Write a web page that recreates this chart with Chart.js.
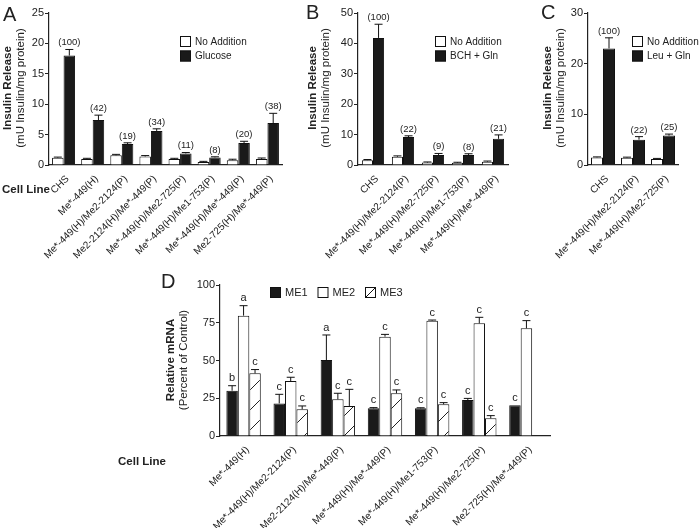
<!DOCTYPE html>
<html>
<head>
<meta charset="utf-8">
<script src="https://cdn.jsdelivr.net/npm/chart.js@4"></script>
<style>
  body { margin: 0; background: #fff; }
  #fig { position: relative; width: 700px; height: 528px; overflow: hidden;
         font-family: "Liberation Sans", Arial, sans-serif; color: #222; }
  canvas { position: absolute; }
  .txt { position: absolute; white-space: nowrap; }
  .panel { font-size: 20px; line-height: 20px; }
  .cell { font-size: 11.5px; font-weight: bold; }
  .ytitle { position: absolute; width: 180px; height: 28px; text-align: center;
            font-size: 11.5px; line-height: 13px; transform: rotate(-90deg); white-space: nowrap; }
  .ytitle b { display: block; }
</style>
</head>
<body>
<div id="fig">
  <canvas id="chartA" width="300" height="275" style="left:0;top:0"></canvas>
  <canvas id="chartB" width="225" height="275" style="left:290px;top:0"></canvas>
  <canvas id="chartC" width="180" height="275" style="left:520px;top:0"></canvas>
  <canvas id="chartD" width="420" height="258" style="left:150px;top:270px"></canvas>

  <div class="txt panel" style="left:3px;top:4px">A</div>
  <div class="txt panel" style="left:306px;top:2px">B</div>
  <div class="txt panel" style="left:541px;top:2px">C</div>
  <div class="txt panel" style="left:161px;top:271px">D</div>

  <div class="ytitle" style="left:-75px;top:74px"><b>Insulin Release</b>(mU Insulin/mg protein)</div>
  <div class="ytitle" style="left:230px;top:74px"><b>Insulin Release</b>(mU Insulin/mg protein)</div>
  <div class="ytitle" style="left:465px;top:74px"><b>Insulin Release</b>(mU Insulin/mg protein)</div>
  <div class="ytitle" style="left:88px;top:346px"><b>Relative mRNA</b>(Percent of Control)</div>

  <div class="txt cell" style="left:2px;top:183px">Cell Line</div>
  <div class="txt cell" style="left:118px;top:455px">Cell Line</div>
</div>

<script>
// ---- panel A: glucose ----
const catsA = ['CHS', 'Me*-449(H)', 'Me*-449(H)/Me2-2124(P)', 'Me2-2124(H)/Me*-449(P)',
  'Me*-449(H)/Me2-725(P)', 'Me*-449(H)/Me1-753(P)', 'Me*-449(H)/Me*-449(P)', 'Me2-725(H)/Me*-449(P)'];
const noAddA = [1.2, 1.0, 1.6, 1.4, 1.0, 0.5, 0.8, 1.0];
const noAddErrA = [0.1, 0.1, 0.15, 0.15, 0.1, 0.1, 0.15, 0.15];
const glucoseA = [18.0, 7.4, 3.45, 5.6, 1.9, 1.25, 3.6, 6.9];
const glucoseErrA = [1.0, 0.8, 0.2, 0.35, 0.15, 0.1, 0.3, 1.6];
const pctA = ['(100)', '(42)', '(19)', '(34)', '(11)', '(8)', '(20)', '(38)'];

// ---- panel B: BCH + Gln ----
const catsB = ['CHS', 'Me*-449(H)/Me2-2124(P)', 'Me*-449(H)/Me2-725(P)',
  'Me*-449(H)/Me1-753(P)', 'Me*-449(H)/Me*-449(P)'];
const noAddB = [1.6, 2.7, 0.8, 0.7, 1.1];
const noAddErrB = [0.2, 0.3, 0.2, 0.2, 0.2];
const bchB = [41.8, 9.2, 3.3, 3.3, 8.6];
const bchErrB = [4.5, 0.4, 0.5, 0.4, 1.3];
const pctB = ['(100)', '(22)', '(9)', '(8)', '(21)'];

// ---- panel C: Leu + Gln ----
const catsC = ['CHS', 'Me*-449(H)/Me2-2124(P)', 'Me*-449(H)/Me2-725(P)'];
const noAddC = [1.5, 1.45, 1.2];
const noAddErrC = [0.1, 0.1, 0.1];
const leuC = [23.0, 5.0, 5.8];
const leuErrC = [2.1, 0.6, 0.3];
const pctC = ['(100)', '(22)', '(25)'];

// ---- panel D: mRNA ----
const catsD = ['Me*-449(H)', 'Me*-449(H)/Me2-2124(P)', 'Me2-2124(H)/Me*-449(P)', 'Me*-449(H)/Me*-449(P)',
  'Me*-449(H)/Me1-753(P)', 'Me*-449(H)/Me2-725(P)', 'Me2-725(H)/Me*-449(P)'];
const me1 = [30, 21.6, 50.3, 18.3, 18.3, 23.8, 20.3];
const me1Err = [3.3, 6, 16.6, 0.5, 0.4, 1.1, 0];
const me1Sig = ['b', 'c', 'a', 'c', 'c', 'c', 'c'];
const me2 = [79.7, 36.4, 24.3, 65.8, 76.4, 74.6, 71.3];
const me2Err = [6.6, 2.5, 4, 1.5, 0.4, 4, 5.1];
const me2Sig = ['a', 'c', 'c', 'c', 'c', 'c', 'c'];
const me3 = [41.5, 17.7, 19.9, 28.3, 21, 11.7, null];
const me3Err = [2.5, 2.2, 11, 2.2, 1.1, 1.8, null];
const me3Sig = ['c', 'c', 'c', 'c', 'c', 'c', ''];

Chart.defaults.font.family = '"Liberation Sans", Arial, sans-serif';
Chart.defaults.color = '#222';

// error bars (up only) and the text over them
const extras = {
  id: 'extras',
  afterDatasetsDraw(chart, args, opts) {
    const ctx = chart.ctx;
    const yScale = chart.scales.y;
    chart.data.datasets.forEach((ds, di) => {
      const meta = chart.getDatasetMeta(di);
      meta.data.forEach((bar, i) => {
        const v = ds.data[i];
        if (v == null) return;
        const e = ds.errors ? (ds.errors[i] || 0) : 0;
        const top = yScale.getPixelForValue(v + e);
        ctx.save();
        ctx.strokeStyle = '#111';
        ctx.lineWidth = 1;
        if (e > 0) {
          ctx.beginPath();
          ctx.moveTo(bar.x, bar.y);
          ctx.lineTo(bar.x, top);
          ctx.moveTo(bar.x - 4, top);
          ctx.lineTo(bar.x + 4, top);
          ctx.stroke();
        }
        if (ds.notes && ds.notes[i]) {
          ctx.fillStyle = '#222';
          ctx.font = opts.font;
          ctx.textAlign = 'center';
          ctx.textBaseline = 'bottom';
          ctx.fillText(ds.notes[i], bar.x, top - 2);
        }
        ctx.restore();
      });
    });
  }
};

// small boxed legend placed inside the canvas
const boxLegend = {
  id: 'boxLegend',
  afterDraw(chart, args, opts) {
    const ctx = chart.ctx;
    chart.data.datasets.forEach((ds, i) => {
      const x = opts.x + opts.dx * i;
      const y = opts.y + opts.dy * i;
      ctx.save();
      ctx.fillStyle = ds.hatched ? '#fff' : ds.backgroundColor;
      ctx.fillRect(x, y, 11, 11);
      ctx.strokeStyle = '#111';
      ctx.lineWidth = 1;
      ctx.strokeRect(x + 0.5, y + 0.5, 10, 10);
      if (ds.hatched) {
        ctx.beginPath();
        ctx.moveTo(x + 1, y + 10);
        ctx.lineTo(x + 10, y + 1);
        ctx.stroke();
      }
      ctx.fillStyle = '#222';
      ctx.font = opts.font;
      ctx.textBaseline = 'middle';
      ctx.fillText(ds.label, x + 15, y + 6);
      ctx.restore();
    });
  }
};

function barChart(id, labels, datasets, o) {
  return new Chart(document.getElementById(id), {
    type: 'bar',
    data: { labels: labels, datasets: datasets },
    options: {
      responsive: false,
      animation: false,
      layout: { padding: { top: o.padTop, right: o.padRight, left: 0, bottom: 0 } },
      datasets: { bar: { categoryPercentage: o.catPct, barPercentage: 1, borderWidth: 1, borderColor: '#111' } },
      scales: {
        x: {
          grid: { display: false },
          border: { display: true, color: '#222', width: 1.2 },
          ticks: { font: { size: 10 }, minRotation: 45, maxRotation: 45, autoSkip: false,
                   padding: 0, labelOffset: 4 },
          afterFit: s => { s.height = o.xh; }
        },
        y: {
          min: 0,
          max: o.yMax,
          grid: { drawOnChartArea: false, drawTicks: true, tickLength: 4, color: '#222' },
          border: { display: true, color: '#222', width: 1.2 },
          ticks: { stepSize: o.step, font: { size: 11 }, padding: 1 },
          afterFit: s => { s.width = o.yw; }
        }
      },
      plugins: {
        legend: { display: false },
        tooltip: { enabled: false },
        boxLegend: o.legend,
        extras: { font: o.noteFont }
      }
    },
    plugins: [extras, boxLegend]
  });
}

const legFont = '10px "Liberation Sans", Arial, sans-serif';
const pctFont = '9.5px "Liberation Sans", Arial, sans-serif';

barChart('chartA', catsA, [
  { label: 'No Addition', data: noAddA, errors: noAddErrA, backgroundColor: '#fff' },
  { label: 'Glucose', data: glucoseA, errors: glucoseErrA, notes: pctA, backgroundColor: '#1a1a1a' }
], { yMax: 25, step: 5, yw: 49, xh: 110, padTop: 13, padRight: 18, catPct: 0.79,
     noteFont: pctFont, legend: { x: 180, y: 36, dx: 0, dy: 14.5, font: legFont } });

barChart('chartB', catsB, [
  { label: 'No Addition', data: noAddB, errors: noAddErrB, backgroundColor: '#fff' },
  { label: 'BCH + Gln', data: bchB, errors: bchErrB, notes: pctB, backgroundColor: '#1a1a1a' }
], { yMax: 50, step: 10, yw: 68, xh: 110, padTop: 13, padRight: 7, catPct: 0.74,
     noteFont: pctFont, legend: { x: 145, y: 36, dx: 0, dy: 14.5, font: legFont } });

barChart('chartC', catsC, [
  { label: 'No Addition', data: noAddC, errors: noAddErrC, backgroundColor: '#fff' },
  { label: 'Leu + Gln', data: leuC, errors: leuErrC, notes: pctC, backgroundColor: '#1a1a1a' }
], { yMax: 30, step: 10, yw: 68, xh: 110, padTop: 13, padRight: 22, catPct: 0.8,
     noteFont: pctFont, legend: { x: 112, y: 36, dx: 0, dy: 14.5, font: legFont } });

// diagonal hatch for ME3
const ctxD = document.getElementById('chartD').getContext('2d');
const tile = document.createElement('canvas');
tile.width = 20; tile.height = 20;
const tg = tile.getContext('2d');
tg.fillStyle = '#fff';
tg.fillRect(0, 0, 20, 20);
tg.strokeStyle = '#222';
tg.lineWidth = 1;
tg.beginPath();
tg.moveTo(0, 20); tg.lineTo(20, 0);
tg.stroke();
const hatch = ctxD.createPattern(tile, 'repeat');

barChart('chartD', catsD, [
  { label: 'ME1', data: me1, errors: me1Err, notes: me1Sig, backgroundColor: '#1a1a1a' },
  { label: 'ME2', data: me2, errors: me2Err, notes: me2Sig, backgroundColor: '#fff' },
  { label: 'ME3', data: me3, errors: me3Err, notes: me3Sig, backgroundColor: hatch, hatched: true }
], { yMax: 100, step: 25, yw: 70, xh: 92, padTop: 15, padRight: 20, catPct: 0.73,
     noteFont: '11px "Liberation Sans", Arial, sans-serif',
     legend: { x: 120, y: 17, dx: 47.5, dy: 0, font: '11px "Liberation Sans", Arial, sans-serif' } });
</script>
</body>
</html>
